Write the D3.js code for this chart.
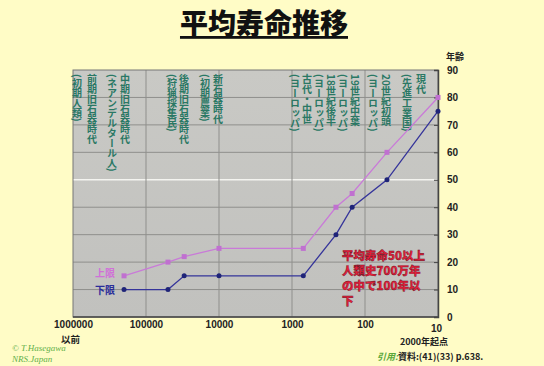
<!DOCTYPE html>
<html>
<head>
<meta charset="utf-8">
<script src="https://cdn.jsdelivr.net/npm/d3@7"></script>
<style>
  body { margin: 0; background: #fffcc6; }
  svg { display: block; font-family: "Noto Sans CJK JP", "Noto Sans", sans-serif; }
</style>
</head>
<body>
<div id="chart"></div>
<script>
// years before 2000 (log scale, reversed)
var years = [200000, 50000, 30000, 10000, 700, 250, 150, 50, 10];
var upper = [15, 20, 22, 25, 25, 40, 45, 60, 80]; // 上限
var lower = [10, 10, 15, 15, 15, 30, 40, 50, 75]; // 下限

var xTicks = [1000000, 100000, 10000, 1000, 100, 10];
var yTicks = [0, 10, 20, 30, 40, 50, 60, 70, 80, 90];

// era labels, written vertically (right column read first)
var eras = ["(初期人類)", "前期旧石器時代", "(ネアンデルタール人)", "中期旧石器時代",
            "(狩猟採集民)", "後期旧石器時代", "(初期農業)", "新石器時代",
            "(ヨーロッパ)", "古代・中世", "(ヨーロッパ)", "18世紀後半",
            "(ヨーロッパ)", "19世紀中葉", "(ヨーロッパ)", "20世紀初頭",
            "(先進工業国)", "現代"];
var eraX = [77, 92, 112, 125, 172, 184, 205, 218, 295, 307, 319, 331, 343, 355, 373, 386, 407, 421];

var note = ["平均寿命50以上", "人類史700万年", "の中で100年以", "下"];

var w = 544, h = 366;
var pl = 73, pr = 438, pt = 70, pb = 317; // plot box

var svg = d3.select("#chart").append("svg")
            .attr("width", w)
            .attr("height", h);

svg.append("rect").attr("width", w).attr("height", h).attr("fill", "#fffcc6");

var x = d3.scaleLog().domain([1000000, 10]).range([pl, pr]);
var y = d3.scaleLinear().domain([0, 90]).range([pb, pt]);

// title
svg.append("text")
   .attr("x", 264).attr("y", 34)
   .attr("text-anchor", "middle")
   .attr("font-size", 28).attr("font-weight", 900)
   .attr("fill", "#111")
   .attr("text-decoration", "underline")
   .text("平均寿命推移");

// plot background
var grad = svg.append("defs").append("linearGradient")
              .attr("id", "bg").attr("x1", 0).attr("y1", 0).attr("x2", 0).attr("y2", 1);
grad.append("stop").attr("offset", 0).attr("stop-color", "#c9c9c5");
grad.append("stop").attr("offset", 1).attr("stop-color", "#c1c1be");

svg.append("rect")
   .attr("x", pl).attr("y", pt)
   .attr("width", pr - pl).attr("height", pb - pt)
   .attr("fill", "url(#bg)");

// grid
svg.append("g").selectAll("line")
   .data(yTicks.filter(function (d) { return d > 0 && d < 90; }))
   .enter().append("line")
   .attr("x1", pl).attr("x2", pr)
   .attr("y1", function (d) { return y(d); })
   .attr("y2", function (d) { return y(d); })
   .attr("stroke", function (d) { return d == 50 ? "#f4f4f0" : "#8f8f8c"; })
   .attr("stroke-width", function (d) { return d == 50 ? 1.5 : 1; });

svg.append("g").selectAll("line")
   .data(xTicks.slice(1, -1))
   .enter().append("line")
   .attr("y1", pt).attr("y2", pb)
   .attr("x1", function (d) { return x(d); })
   .attr("x2", function (d) { return x(d); })
   .attr("stroke", "#8f8f8c");

// frame
svg.append("rect")
   .attr("x", pl).attr("y", pt)
   .attr("width", pr - pl).attr("height", pb - pt)
   .attr("fill", "none").attr("stroke", "#777").attr("stroke-width", 1);
svg.append("line")
   .attr("x1", pl).attr("x2", pr).attr("y1", pb).attr("y2", pb)
   .attr("stroke", "#444").attr("stroke-width", 1.5);

// right axis
var yAxis = d3.axisRight(y).tickValues(yTicks).tickSize(-4).tickPadding(10);
var ga = svg.append("g")
            .attr("transform", "translate(" + pr + ",0)")
            .call(yAxis);
ga.select(".domain").attr("stroke", "#444").attr("stroke-width", 1.5);
ga.selectAll(".tick line").attr("stroke", "#444");
ga.selectAll("text")
  .attr("font-size", 10).attr("font-weight", 700)
  .attr("fill", "#222").attr("x", 9).attr("dy", "0.32em");

svg.append("text")
   .attr("x", 446).attr("y", 60)
   .attr("font-size", 9).attr("font-weight", 700).attr("fill", "#222")
   .text("年齢");

// bottom axis labels
var xAxis = d3.axisBottom(x).tickValues(xTicks).tickSize(0).tickPadding(4)
              .tickFormat(d3.format("d"));
var gx = svg.append("g")
            .attr("transform", "translate(0," + pb + ")")
            .call(xAxis);
gx.select(".domain").remove();
gx.selectAll("text")
  .attr("font-size", 10).attr("font-weight", 700).attr("fill", "#222");
gx.selectAll(".tick").filter(function (d) { return d == 10; })
  .select("text").attr("dx", -2).attr("dy", "1.1em");

svg.append("text")
   .attr("x", 61).attr("y", 343)
   .attr("font-size", 9.5).attr("font-weight", 700).attr("fill", "#222")
   .text("以前");

svg.append("text")
   .attr("x", 424).attr("y", 345)
   .attr("text-anchor", "middle")
   .attr("font-size", 9).attr("font-weight", 700).attr("fill", "#222")
   .text("2000年起点");

var cite = svg.append("text")
              .attr("x", 377).attr("y", 360)
              .attr("font-size", 9).attr("font-weight", 700);
cite.append("tspan").attr("fill", "#5aa83a").attr("font-style", "italic").text("引用:");
cite.append("tspan").attr("fill", "#222").text("資料:(41)(33) p.638.");

// copyright
svg.append("text")
   .attr("x", 12).attr("y", 351)
   .attr("font-size", 9).attr("font-style", "italic")
   .attr("font-family", "Liberation Serif, serif")
   .attr("fill", "#5fb04a")
   .text("© T.Hasegawa");
svg.append("text")
   .attr("x", 12).attr("y", 362)
   .attr("font-size", 9).attr("font-style", "italic")
   .attr("font-family", "Liberation Serif, serif")
   .attr("fill", "#5fb04a")
   .text("NRS.Japan");

// era labels
svg.append("g").selectAll("text")
   .data(eras)
   .enter().append("text")
   .attr("x", function (d, i) { return eraX[i]; })
   .attr("y", 74)
   .style("writing-mode", "vertical-rl")
   .attr("font-size", 10).attr("font-weight", 700)
   .attr("fill", "#2a7864")
   .text(function (d) { return d; });

// lines
var upperData = years.map(function (d, i) { return [d, upper[i]]; });
var lowerData = years.map(function (d, i) { return [d, lower[i]]; });

var line = d3.line()
             .x(function (d) { return x(d[0]); })
             .y(function (d) { return y(d[1]); });

svg.append("path").datum(upperData)
   .attr("d", line).attr("fill", "none")
   .attr("stroke", "#c97ad8").attr("stroke-width", 1.3);
svg.append("g").selectAll("rect")
   .data(upperData).enter().append("rect")
   .attr("x", function (d) { return x(d[0]) - 2.5; })
   .attr("y", function (d) { return y(d[1]) - 2.5; })
   .attr("width", 5).attr("height", 5)
   .attr("fill", "#c070d0");

svg.append("path").datum(lowerData)
   .attr("d", line).attr("fill", "none")
   .attr("stroke", "#35349a").attr("stroke-width", 1.3);
svg.append("g").selectAll("circle")
   .data(lowerData).enter().append("circle")
   .attr("cx", function (d) { return x(d[0]); })
   .attr("cy", function (d) { return y(d[1]); })
   .attr("r", 2.5)
   .attr("fill", "#1f2478");

// legend labels
svg.append("text")
   .attr("x", 95).attr("y", 277)
   .attr("font-size", 10).attr("font-weight", 700).attr("fill", "#d070d8")
   .text("上限");
svg.append("text")
   .attr("x", 95).attr("y", 294)
   .attr("font-size", 10).attr("font-weight", 700).attr("fill", "#2a2d9a")
   .text("下限");

// red note
svg.append("g").selectAll("text")
   .data(note)
   .enter().append("text")
   .attr("x", 342)
   .attr("y", function (d, i) { return 260 + i * 15; })
   .attr("font-size", 11.5).attr("font-weight", 900)
   .attr("fill", "#e8203a")
   .attr("stroke", "#6a1020").attr("stroke-width", 0.4)
   .text(function (d) { return d; });
</script>
</body>
</html>
